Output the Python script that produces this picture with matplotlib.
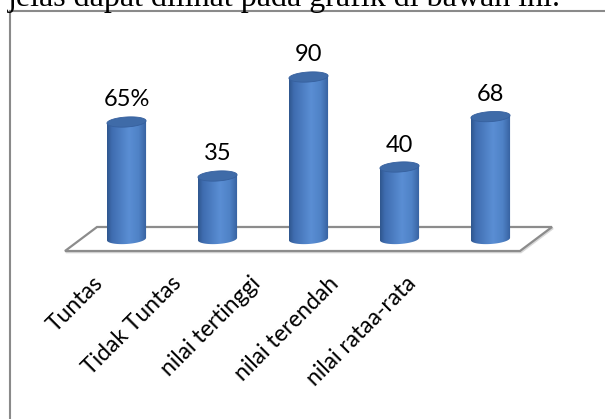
import numpy as np
import matplotlib
matplotlib.use("Agg")
import matplotlib.pyplot as plt
from matplotlib.patches import Polygon
from matplotlib.colors import to_rgb
from matplotlib.lines import Line2D

# data
categories = ["Tuntas", "Tidak Tuntas", "nilai tertinggi", "nilai terendah", "nilai rataa-rata"]
values = [65, 35, 90, 40, 68]
value_labels = ["65%", "35", "90", "40", "68"]

W, H = 605, 419
fig = plt.figure(figsize=(W / 100, H / 100), dpi=100)
fig.patch.set_facecolor("white")

# whole-figure axes; x = category index, y = value
ax = fig.add_axes([0, 0, 1, 1])
ax.set_xlim(-126.5 / 91, (W - 126.5) / 91)
ax.set_ylim((239 - H) / 1.8, 239 / 1.8)
ax.axis("off")

px_y = 1 / 1.8          # one pixel in value units
bar_w = 0.43
rx = bar_w / 2
ry = 5 * px_y           # ellipse half height
tilt = 1.2 * px_y       # left side of ellipses sits a bit lower


def ellipse_pts(xc, yc, t):
    return np.column_stack([xc + rx * np.cos(t), yc + ry * np.sin(t) + tilt * np.cos(t)])


# floor
skew = 0.176
fy = 6.67
floor = [(-0.5 - skew, -fy), (4.5 - skew, -fy), (4.5 + skew, fy), (-0.5 + skew, fy)]
shadow = [(x + 0.01, y - 1.2 * px_y) for x, y in floor]
ax.add_patch(Polygon(shadow, closed=True, fill=False, ec="#d8d8d8", lw=1.6, zorder=1))
ax.add_patch(Polygon(floor, closed=True, fc="white", ec="#8c8c8c", lw=1.6, zorder=2))

# horizontal shading across the cylinder body
stops = np.array([0.0, 0.12, 0.55, 0.8, 1.0])
cols = np.array([to_rgb(c) for c in ["#30578f", "#3f6db0", "#5a8ed4", "#4f82c6", "#36609e"]])
u = np.linspace(0, 1, 64)
grad = np.stack([np.interp(u, stops, cols[:, k]) for k in range(3)], axis=-1)[None, :, :]

for i, v in enumerate(values):
    xc = i
    t_low = np.linspace(np.pi, 2 * np.pi, 60)
    body = np.vstack([[[xc - rx, v - tilt]], ellipse_pts(xc, 0, t_low), [[xc + rx, v + tilt]]])
    clip = Polygon(body, closed=True, fc="none", ec="none", transform=ax.transData)
    ax.add_patch(clip)
    im = ax.imshow(grad, extent=[xc - rx, xc + rx, -ry - tilt - 1, v + tilt + 1],
                   aspect="auto", zorder=3, interpolation="bilinear")
    im.set_clip_path(clip)
    # top cap
    cap = Polygon(ellipse_pts(xc, v, np.linspace(0, 2 * np.pi, 80)), closed=True,
                  fc="#3f6ba8", ec="#36609e", lw=0.6, zorder=4)
    ax.add_patch(cap)
    ax.text(xc, v + (4 + 18) * px_y, value_labels[i], ha="center", va="center",
            fontsize=17, family="Lato", color="black", zorder=5)

# rotated category labels
for i, name in enumerate(categories):
    ax.text(-0.29 + i * 0.86, -22.8, name, rotation=45, rotation_mode="anchor",
            ha="right", va="center", fontsize=16.5, family="Lato", color="black")

# frame of the chart object
fig.add_artist(Line2D([9.5 / W, 9.5 / W], [0, 1 - 11 / H], color="#8a8a8a", lw=1.5,
                      transform=fig.transFigure))
fig.add_artist(Line2D([9.5 / W, 1], [1 - 11 / H, 1 - 11 / H], color="#8a8a8a", lw=1.5,
                      transform=fig.transFigure))

# sentence above the chart, only its lower part fits on the page
fig.text(8 / W, 1 - 6 / H, "jelas dapat dilihat pada grafik di bawah ini.",
         family="Liberation Serif", fontsize=23, va="baseline", ha="left", color="black")

fig.savefig("out.png", dpi=100)
